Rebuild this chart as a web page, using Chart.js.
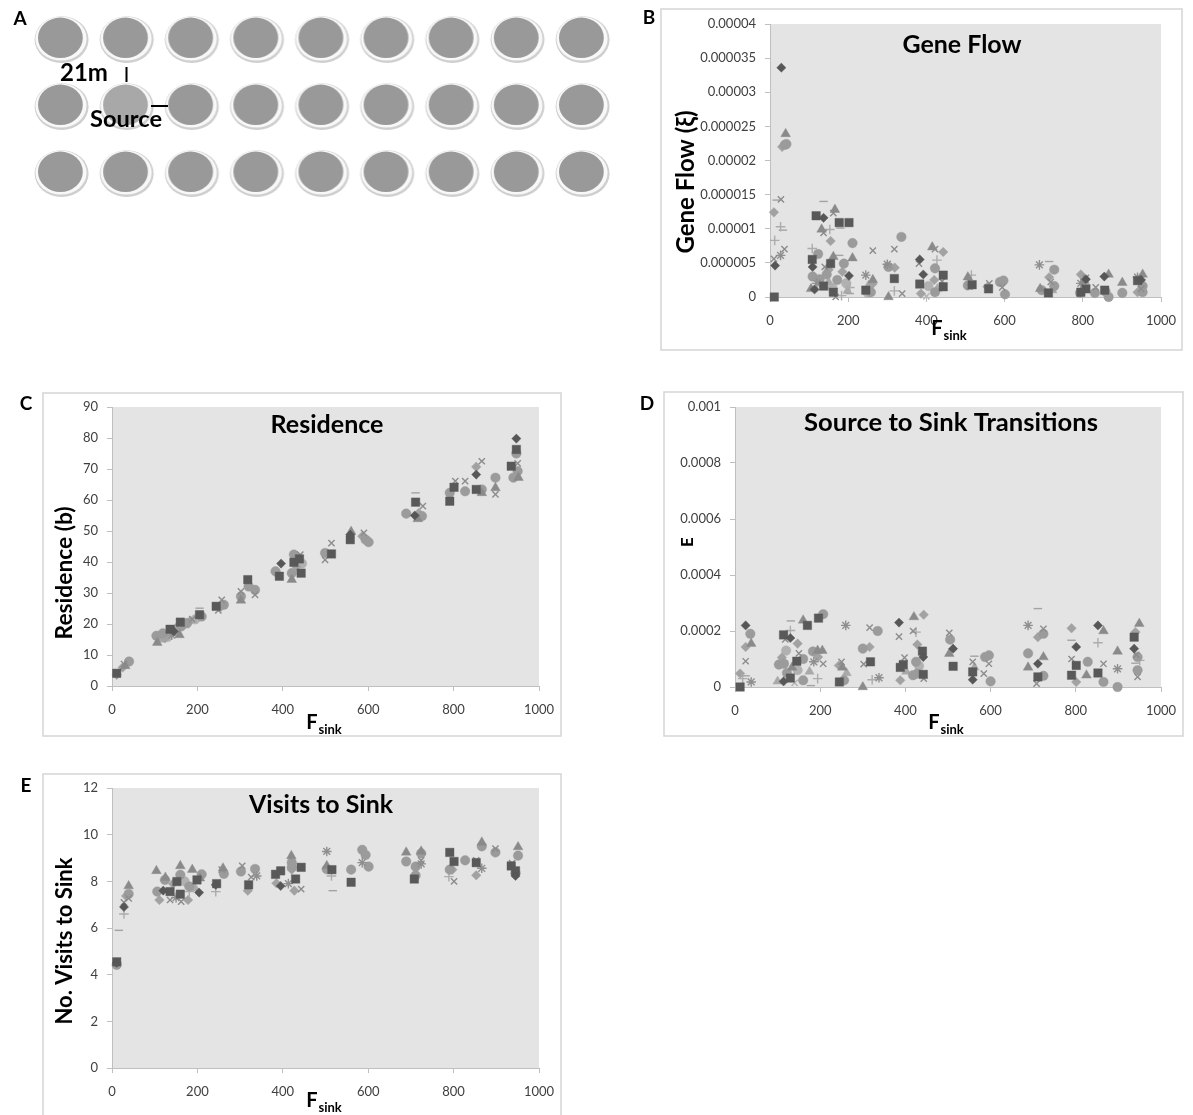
<!DOCTYPE html>
<html>
<head>
<meta charset="utf-8">
<script src="https://cdn.jsdelivr.net/npm/chart.js@4.4.0/dist/chart.umd.min.js"></script>
<style>
  html, body { margin: 0; padding: 0; background: #ffffff; }
  body { width: 1193px; height: 1115px; position: relative; overflow: hidden; }
  canvas { position: absolute; }
</style>
</head>
<body>
<canvas id="panelA" width="640" height="210" style="left:0;top:0"></canvas>
<canvas id="panelB" width="553" height="360" style="left:640px;top:0"></canvas>
<canvas id="panelC" width="580" height="380" style="left:0;top:380px"></canvas>
<canvas id="panelD" width="593" height="380" style="left:600px;top:380px"></canvas>
<canvas id="panelE" width="580" height="355" style="left:0;top:760px"></canvas>
<script>
// ---- Field layout (panel A): 3 rows x 9 columns of plots, one source plot ----
const fieldCols = [1, 2, 3, 4, 5, 6, 7, 8, 9];
const fieldRows = [1, 2, 3];
const sourceField = [2, 2]; // [column, row]

// ---- Axis tick labels ----
const fSinkTicks = ['0', '200', '400', '600', '800', '1000'];
const geneFlowTicks = ['0', '0.000005', '0.00001', '0.000015', '0.00002', '0.000025', '0.00003', '0.000035', '0.00004'];
const residenceTicks = ['0', '10', '20', '30', '40', '50', '60', '70', '80', '90'];
const transitionTicks = ['0', '0.0002', '0.0004', '0.0006', '0.0008', '0.001'];
const visitTicks = ['0', '2', '4', '6', '8', '10', '12'];

// ---- Simulation results: [F_sink, value, series] ----
const geneFlow = [
  [11, 0, 1], [29, 33.6e-6, 0], [40, 23.9e-6, 2], [31, 22.0e-6, 8], [38, 22.3e-6, 5], [42, 22.4e-6, 5],
  [28, 14.3e-6, 3], [17, 14.2e-6, 7], [10, 12.4e-6, 8], [27, 10.3e-6, 6], [33, 9.8e-6, 7], [12, 8.3e-6, 6],
  [37, 7.0e-6, 3], [27, 6.1e-6, 4], [10, 5.6e-6, 3], [13, 4.6e-6, 0],
  [118, 11.9e-6, 1], [137, 11.6e-6, 0], [137, 14.0e-6, 7], [162, 12.3e-6, 3], [166, 12.8e-6, 2], [132, 9.9e-6, 2],
  [137, 9.4e-6, 3], [153, 9.9e-6, 6], [177, 10.9e-6, 1], [202, 10.9e-6, 1], [180, 10.1e-6, 7], [211, 7.9e-6, 5],
  [155, 8.2e-6, 8], [108, 7.1e-6, 6], [123, 6.3e-6, 5], [108, 5.5e-6, 1], [162, 5.9e-6, 2], [177, 6.1e-6, 7],
  [211, 5.7e-6, 2], [109, 3.0e-6, 5], [109, 4.4e-6, 0], [189, 4.9e-6, 5], [155, 4.9e-6, 1], [137, 1.6e-6, 1],
  [114, 1.1e-6, 0], [105, 1.2e-6, 2], [162, 0.7e-6, 1], [202, 3.1e-6, 0], [168, 0, 3], [204, 1.4e-6, 6],
  [204, 0.5e-6, 7], [127, 2.6e-6, 5], [145, 3.3e-6, 5], [150, 2.2e-6, 9], [172, 2.5e-6, 5], [185, 3.7e-6, 8],
  [195, 2.0e-6, 10], [140, 4.4e-6, 3], [120, 2.0e-6, 4], [160, 1.3e-6, 10], [198, 0.9e-6, 9], [183, 0.2e-6, 6],
  [150, 4.0e-6, 8],
  [263, 6.8e-6, 3], [245, 3.2e-6, 4], [263, 2.5e-6, 2], [245, 1.0e-6, 1], [250, 0.6e-6, 10], [258, 0.7e-6, 5],
  [252, 1.7e-6, 9], [262, 1.9e-6, 8],
  [336, 8.8e-6, 5], [318, 7.0e-6, 3], [303, 4.4e-6, 5], [319, 4.3e-6, 8], [318, 2.7e-6, 1], [303, 0, 2],
  [318, 0.9e-6, 6], [338, 0.5e-6, 3], [300, 4.8e-6, 4],
  [383, 5.5e-6, 0], [381, 4.9e-6, 3], [415, 7.3e-6, 2], [422, 7.0e-6, 3], [443, 6.6e-6, 8], [427, 5.4e-6, 6],
  [422, 4.2e-6, 5], [392, 3.3e-6, 0], [383, 1.9e-6, 1], [443, 3.2e-6, 1], [443, 1.5e-6, 1], [422, 0.7e-6, 5],
  [386, 0.5e-6, 8], [420, 2.5e-6, 8], [400, 0.1e-6, 11], [440, 2.3e-6, 3], [405, 1.6e-6, 10], [428, 1.2e-6, 9],
  [506, 2.9e-6, 2], [515, 3.2e-6, 6], [506, 1.7e-6, 5], [517, 1.8e-6, 1], [510, 1.5e-6, 3],
  [559, 1.2e-6, 1], [561, 2.0e-6, 3], [556, 1.5e-6, 8],
  [588, 2.2e-6, 5], [597, 2.4e-6, 5], [601, 0.4e-6, 5], [594, 1.4e-6, 3],
  [689, 4.7e-6, 4], [714, 5.2e-6, 7], [727, 4.0e-6, 5], [714, 2.9e-6, 8], [727, 1.6e-6, 5], [691, 1.2e-6, 2],
  [695, 1.0e-6, 5], [712, 0.6e-6, 1], [718, 2.2e-6, 3], [722, 1.0e-6, 9],
  [795, 3.3e-6, 8], [808, 2.8e-6, 3], [808, 2.6e-6, 0], [795, 2.0e-6, 4], [808, 1.2e-6, 1], [795, 0.7e-6, 1],
  [793, 0.6e-6, 5], [804, 2.4e-6, 2],
  [855, 3.0e-6, 0], [866, 3.3e-6, 2], [833, 1.4e-6, 3], [831, 0.6e-6, 5], [856, 1.0e-6, 1], [858, 0.8e-6, 5],
  [866, 0, 5],
  [901, 2.1e-6, 2], [901, 0.6e-6, 5],
  [953, 3.3e-6, 2], [940, 2.9e-6, 4], [940, 2.4e-6, 1], [949, 2.5e-6, 0], [953, 1.6e-6, 5], [953, 0.7e-6, 5],
  [940, 0.7e-6, 8], [949, 1.2e-6, 3]
];

const residence = [
  [11, 4.1, 1], [11, 3.6, 8], [28, 7.1, 3], [40, 7.9, 5], [31, 6.5, 2], [25, 6.0, 8],
  [104, 16.2, 5], [106, 14.0, 2], [119, 17.0, 5], [124, 15.4, 8], [136, 18.3, 1], [145, 17.6, 0],
  [160, 20.6, 1], [162, 19.2, 5], [158, 16.5, 2], [176, 20.3, 5], [188, 21.6, 3], [205, 23.0, 1],
  [210, 22.4, 5], [205, 25.1, 7], [115, 15.0, 9], [130, 15.8, 10], [150, 18.8, 8], [170, 19.6, 9],
  [182, 20.8, 8], [195, 21.5, 10], [140, 16.4, 4],
  [244, 25.7, 1], [257, 27.8, 3], [262, 26.2, 5], [249, 24.4, 3], [255, 25.5, 8],
  [302, 28.9, 5], [302, 27.6, 2], [302, 30.5, 3], [318, 34.3, 1], [320, 32.1, 5], [335, 31.0, 5], [335, 29.4, 3],
  [396, 39.5, 0], [383, 37.0, 5], [392, 35.4, 1], [426, 42.4, 5], [426, 39.9, 1], [439, 41.0, 1],
  [421, 36.4, 5], [421, 34.3, 2], [443, 36.4, 1], [441, 42.4, 3], [388, 36.0, 8], [432, 38.5, 8], [445, 39.5, 10],
  [499, 42.9, 5], [514, 42.6, 1], [514, 46.1, 3], [499, 40.7, 3],
  [558, 48.8, 0], [558, 47.2, 1], [560, 49.8, 2],
  [590, 49.4, 3], [594, 47.2, 5], [601, 46.4, 5], [586, 48.3, 8],
  [689, 55.6, 5], [711, 59.3, 1], [711, 62.3, 7], [709, 55.0, 0], [726, 54.8, 5], [716, 53.9, 2],
  [728, 58.0, 3], [718, 55.8, 8],
  [791, 59.6, 1], [791, 62.3, 5], [801, 64.1, 1], [804, 66.1, 3], [827, 62.8, 5], [827, 66.1, 3],
  [853, 70.7, 8], [853, 68.2, 0], [853, 63.4, 1], [866, 72.5, 3], [866, 63.4, 5], [866, 62.3, 2],
  [898, 67.2, 5], [898, 63.9, 2], [898, 61.8, 3],
  [947, 79.8, 0], [947, 76.3, 1], [947, 75.0, 5], [935, 70.9, 1], [950, 71.8, 3], [950, 69.3, 5],
  [940, 67.2, 5], [952, 67.2, 2]
];

const transitions = [
  [12, 0, 1], [12, 0.48e-4, 8], [25, 2.2e-4, 0], [36, 1.9e-4, 5], [25, 1.43e-4, 8], [38, 1.55e-4, 2],
  [25, 0.92e-4, 3], [25, 0.4e-4, 7], [38, 0.18e-4, 4], [18, 0.3e-4, 6],
  [196, 2.46e-4, 1], [207, 2.6e-4, 5], [170, 2.2e-4, 1], [160, 2.38e-4, 2], [131, 2.36e-4, 7], [130, 2.02e-4, 6],
  [114, 1.86e-4, 1], [130, 1.75e-4, 0], [118, 1.7e-4, 3], [147, 1.55e-4, 8], [194, 1.3e-4, 2], [205, 1.3e-4, 2],
  [183, 1.27e-4, 5], [195, 1.07e-4, 8], [103, 0.8e-4, 5], [115, 0.83e-4, 5], [145, 0.92e-4, 1], [160, 1.0e-4, 5],
  [147, 0.6e-4, 10], [122, 0.5e-4, 5], [134, 0.7e-4, 2], [130, 0.32e-4, 1], [114, 0.2e-4, 0], [207, 0.83e-4, 3],
  [194, 0.3e-4, 6], [160, 0.24e-4, 5], [100, 0.2e-4, 9], [175, 0.55e-4, 9], [185, 0.9e-4, 4], [140, 0.15e-4, 11],
  [178, 0.05e-4, 7], [110, 1.05e-4, 8], [150, 1.2e-4, 3], [120, 1.3e-4, 10],
  [260, 2.2e-4, 4], [245, 0.18e-4, 1], [252, 0.7e-4, 2], [256, 0.24e-4, 5], [250, 0.9e-4, 3], [244, 0.77e-4, 8],
  [262, 0.5e-4, 9],
  [300, 0, 2], [300, 1.37e-4, 5], [316, 1.43e-4, 8], [316, 2.12e-4, 3], [335, 2.0e-4, 5], [318, 0.9e-4, 1],
  [302, 0.82e-4, 3], [322, 0.26e-4, 6], [338, 0.33e-4, 4],
  [385, 2.3e-4, 0], [385, 1.8e-4, 3], [420, 2.5e-4, 2], [443, 2.58e-4, 8], [425, 1.96e-4, 6], [418, 2.0e-4, 3],
  [428, 1.52e-4, 8], [440, 1.28e-4, 1], [442, 1.07e-4, 0], [395, 0.8e-4, 1], [388, 0.7e-4, 1], [398, 1.05e-4, 3],
  [425, 0.9e-4, 5], [428, 0.48e-4, 5], [418, 0.42e-4, 5], [442, 0.45e-4, 1], [388, 0.24e-4, 8], [443, 0.3e-4, 3],
  [402, 0.55e-4, 9], [432, 0.75e-4, 10],
  [503, 1.93e-4, 3], [505, 1.69e-4, 5], [512, 1.37e-4, 0], [503, 1.19e-4, 2], [512, 0.74e-4, 1],
  [558, 0.9e-4, 3], [558, 0.54e-4, 1], [558, 0.26e-4, 0], [562, 1.1e-4, 7], [562, 0.7e-4, 9],
  [587, 1.07e-4, 5], [596, 1.13e-4, 5], [600, 0.2e-4, 5], [596, 0.83e-4, 3], [584, 0.48e-4, 3],
  [688, 2.2e-4, 4], [711, 2.8e-4, 7], [724, 1.9e-4, 5], [724, 2.08e-4, 3], [711, 1.78e-4, 8], [688, 1.2e-4, 5],
  [724, 1.07e-4, 2], [711, 0.83e-4, 0], [688, 0.7e-4, 2], [711, 0.36e-4, 1], [724, 0.4e-4, 5], [708, 0.12e-4, 3],
  [790, 2.1e-4, 8], [790, 1.67e-4, 7], [801, 1.43e-4, 0], [790, 1.0e-4, 3], [801, 0.77e-4, 1], [790, 0.42e-4, 1],
  [801, 0.18e-4, 8], [828, 0.9e-4, 5],
  [852, 2.2e-4, 0], [865, 2.0e-4, 2], [852, 1.58e-4, 6], [865, 0.83e-4, 3], [825, 0.42e-4, 2], [852, 0.5e-4, 1],
  [865, 0.18e-4, 5],
  [898, 1.27e-4, 2], [898, 0.65e-4, 4], [898, 0, 5],
  [949, 2.26e-4, 2], [940, 1.96e-4, 8], [937, 1.78e-4, 1], [937, 1.37e-4, 0], [945, 1.07e-4, 5], [942, 1.15e-4, 3],
  [945, 0.6e-4, 5], [945, 0.36e-4, 3], [940, 0.85e-4, 7], [950, 0.95e-4, 6]
];

const visits = [
  [11, 4.42, 5], [11, 4.55, 1], [11, 4.5, 0], [16, 5.9, 7], [28, 6.9, 0], [28, 7.1, 3], [28, 6.6, 6],
  [39, 7.8, 2], [39, 7.46, 5], [33, 7.37, 8], [39, 7.27, 3],
  [104, 8.45, 2], [106, 7.56, 5], [111, 7.2, 8], [125, 8.16, 2], [124, 8.06, 5], [136, 7.56, 1], [136, 7.2, 3],
  [160, 8.66, 2], [160, 8.28, 5], [152, 7.99, 1], [160, 7.45, 1], [188, 8.5, 2], [181, 7.78, 5], [162, 7.13, 3],
  [178, 7.2, 8], [210, 8.3, 5], [206, 8.13, 2], [204, 7.52, 0], [199, 8.06, 1], [181, 7.56, 6], [143, 7.9, 8],
  [120, 7.6, 0], [150, 7.3, 4], [170, 8.0, 10], [195, 7.7, 9],
  [243, 7.85, 0], [245, 7.9, 1], [260, 8.56, 2], [262, 8.32, 5], [257, 8.5, 3], [243, 7.56, 6],
  [305, 8.66, 3], [302, 8.42, 5], [320, 7.85, 1], [318, 7.6, 8], [326, 8.18, 3], [339, 8.23, 4], [335, 8.53, 5],
  [383, 8.3, 1], [395, 8.45, 1], [385, 7.92, 8], [395, 7.8, 0], [420, 9.09, 2], [421, 8.8, 5], [421, 8.6, 5],
  [421, 8.5, 8], [443, 8.6, 1], [430, 8.1, 1], [427, 7.6, 8], [443, 7.67, 3], [413, 7.9, 4],
  [503, 9.28, 4], [503, 8.52, 5], [503, 8.66, 2], [515, 8.5, 1], [514, 8.23, 6], [517, 7.6, 7],
  [560, 7.96, 1], [560, 8.5, 5],
  [586, 9.35, 5], [594, 9.13, 5], [601, 8.63, 5], [586, 8.8, 4],
  [689, 9.24, 2], [689, 8.85, 5], [708, 8.1, 1], [711, 8.25, 5], [724, 8.9, 3], [724, 8.75, 4], [724, 9.2, 5],
  [724, 9.28, 2], [711, 8.63, 5],
  [791, 9.24, 1], [801, 8.0, 3], [801, 8.85, 1], [791, 8.5, 5], [797, 8.5, 8], [789, 8.2, 6],
  [827, 8.9, 5], [853, 8.8, 1], [853, 8.9, 3], [853, 8.26, 8], [866, 9.67, 2], [866, 9.5, 5], [866, 8.56, 4],
  [898, 9.24, 5], [898, 9.4, 3],
  [951, 9.47, 2], [951, 9.1, 5], [935, 8.66, 1], [945, 8.45, 1], [945, 8.23, 0], [945, 8.35, 5], [937, 8.78, 3]
];

// ---- Marker style for each series index ----
const seriesStyles = [
  { shape: 'rectRot',  color: '#575757', r: 4.6, stroke: false },
  { shape: 'rect',     color: '#595959', r: 6.0, stroke: false },
  { shape: 'triangle', color: '#8a8a8a', r: 5.6, stroke: false },
  { shape: 'crossRot', color: '#8c8c8c', r: 4.4, stroke: true },
  { shape: 'star',     color: '#8f8f8f', r: 4.8, stroke: true },
  { shape: 'circle',   color: '#9b9b9b', r: 4.8, stroke: false },
  { shape: 'cross',    color: '#acacac', r: 4.8, stroke: true },
  { shape: 'line',     color: '#a3a3a3', r: 4.2, stroke: true },
  { shape: 'rectRot',  color: '#a2a2a2', r: 4.8, stroke: false },
  { shape: 'triangle', color: '#a9a9a9', r: 5.4, stroke: false },
  { shape: 'circle',   color: '#b1b1b1', r: 4.8, stroke: false },
  { shape: 'crossRot', color: '#b3b3b3', r: 4.4, stroke: true }
];

const FONT = 'Lato, "Liberation Sans", sans-serif';

// sets a bold font whose rendered width of `text` equals `width`
function fitBold(ctx, text, width) {
  ctx.font = 'bold 20px ' + FONT;
  const size = 20 * width / ctx.measureText(text).width;
  ctx.font = 'bold ' + size.toFixed(2) + 'px ' + FONT;
}

function seriesDatasets(points) {
  return seriesStyles.map((st, k) => ({
    data: points.filter(p => p[2] === k).map(p => ({ x: p[0], y: p[1] })),
    pointStyle: st.shape,
    pointRadius: st.r,
    pointHoverRadius: st.r,
    backgroundColor: st.color,
    borderColor: st.color,
    borderWidth: st.stroke ? 1.4 : 0.4,
    showLine: false,
    clip: false
  })).filter(d => d.data.length);
}

function axisOptions(ticks, dir, size) {
  const vals = ticks.map(Number);
  const step = vals[1] - vals[0];
  return {
    type: 'linear',
    position: dir === 'x' ? 'bottom' : 'left',
    min: vals[0],
    max: vals[vals.length - 1],
    afterFit: s => { if (dir === 'x') s.height = size; else s.width = size; },
    ticks: {
      stepSize: step, autoSkip: false, maxRotation: 0,
      padding: dir === 'x' ? 11 : 9,
      color: '#404040',
      font: { family: FONT, size: 13 },
      callback: v => ticks[Math.round((v - vals[0]) / step)]
    },
    grid: { drawOnChartArea: false, drawTicks: true, tickLength: 5, color: '#bfbfbf', lineWidth: 1 },
    border: { display: true, color: '#bfbfbf', width: 1 }
  };
}

// Frame, plot-area fill, panel letter, titles
function panelDecor(d) {
  return {
    id: 'panelDecor',
    beforeDraw(chart) {
      const ctx = chart.ctx, a = chart.chartArea;
      ctx.save();
      ctx.strokeStyle = '#d7d7d7';
      ctx.lineWidth = 1.6;
      ctx.strokeRect(d.frame[0], d.frame[1], d.frame[2] - d.frame[0], d.frame[3] - d.frame[1]);
      ctx.fillStyle = '#e4e4e4';
      ctx.fillRect(a.left, a.top, a.right - a.left, a.bottom - a.top);
      ctx.restore();
    },
    afterDraw(chart) {
      const ctx = chart.ctx;
      ctx.save();
      ctx.fillStyle = '#000000';
      ctx.textAlign = 'center';
      ctx.textBaseline = 'middle';
      ctx.font = 'bold 19px ' + FONT;
      ctx.fillText(d.letter, d.letterAt[0], d.letterAt[1]);
      fitBold(ctx, d.title, d.titleWidth);
      ctx.fillText(d.title, d.titleAt[0], d.titleAt[1]);
      // rotated y-axis title
      ctx.save();
      ctx.translate(d.yTitleAt[0], d.yTitleAt[1]);
      ctx.rotate(-Math.PI / 2);
      if (d.yTitleWidth) fitBold(ctx, d.yTitle, d.yTitleWidth);
      else ctx.font = 'bold ' + d.yTitleSize + 'px ' + FONT;
      ctx.fillText(d.yTitle, 0, 0);
      ctx.restore();
      // x-axis title F with subscript "sink"
      ctx.textAlign = 'left';
      ctx.textBaseline = 'alphabetic';
      ctx.font = 'bold 20px ' + FONT;
      const wF = ctx.measureText('F').width;
      ctx.font = 'bold 13px ' + FONT;
      const wS = ctx.measureText('sink').width;
      const x0 = d.xTitleAt[0] - (wF + wS + 1) / 2;
      const base = d.xTitleAt[1] + 7;
      ctx.font = 'bold 20px ' + FONT;
      ctx.fillText('F', x0, base);
      ctx.font = 'bold 13px ' + FONT;
      ctx.fillText('sink', x0 + wF + 1, base + 5);
      ctx.restore();
    }
  };
}

function buildScatter(id, points, yTicks, lay, decor) {
  return new Chart(document.getElementById(id), {
    type: 'scatter',
    data: { datasets: seriesDatasets(points) },
    options: {
      responsive: false,
      animation: false,
      devicePixelRatio: 1,
      events: [],
      layout: { padding: lay.padding },
      plugins: { legend: { display: false }, tooltip: { enabled: false } },
      scales: {
        x: axisOptions(fSinkTicks, 'x', lay.xH),
        y: axisOptions(yTicks, 'y', lay.yW)
      }
    },
    plugins: [panelDecor(decor)]
  });
}

// ---- Panel A: plot grid ----
function discSprite(fill) {
  const c = document.createElement('canvas');
  c.width = 58; c.height = 52;
  const g = c.getContext('2d');
  g.fillStyle = '#cfcfcf';
  g.beginPath(); g.ellipse(29.6, 26.6, 27, 23.4, 0, 0, Math.PI * 2); g.fill();
  g.fillStyle = '#f8f8f8';
  g.beginPath(); g.ellipse(29, 25.6, 25.6, 22, 0, 0, Math.PI * 2); g.fill();
  g.fillStyle = fill;
  g.beginPath(); g.ellipse(28.4, 24.8, 22.4, 20.2, 0, 0, Math.PI * 2); g.fill();
  return c;
}

const fieldPoints = [];
fieldRows.forEach(r => fieldCols.forEach(c => {
  if (!(c === sourceField[0] && r === sourceField[1])) fieldPoints.push({ x: c, y: r });
}));

const fieldLabels = {
  id: 'fieldLabels',
  afterDraw(chart) {
    const ctx = chart.ctx;
    ctx.save();
    ctx.fillStyle = '#000';
    ctx.textAlign = 'center';
    ctx.textBaseline = 'middle';
    ctx.font = 'bold 19px ' + FONT;
    ctx.fillText('A', 20, 19);
    fitBold(ctx, '21m', 48);
    ctx.fillText('21m', 84, 73);
    fitBold(ctx, 'Source', 72);
    ctx.fillText('Source', 126, 119);
    ctx.strokeStyle = '#000';
    ctx.lineWidth = 2;
    ctx.beginPath();
    ctx.moveTo(126.5, 67); ctx.lineTo(126.5, 82);
    ctx.moveTo(151, 106); ctx.lineTo(168, 106);
    ctx.stroke();
    ctx.restore();
  }
};

new Chart(document.getElementById('panelA'), {
  type: 'scatter',
  data: {
    datasets: [
      { data: fieldPoints, pointStyle: discSprite('#999999'), pointRadius: 27, clip: false },
      { data: [{ x: sourceField[0], y: sourceField[1] }], pointStyle: discSprite('#a8a8a8'), pointRadius: 27, clip: false }
    ]
  },
  options: {
    responsive: false, animation: false, devicePixelRatio: 1, events: [],
    layout: { padding: { left: 61, right: 58, top: 39, bottom: 37 } },
    plugins: { legend: { display: false }, tooltip: { enabled: false } },
    scales: {
      x: { type: 'linear', min: 1, max: 9, display: false },
      y: { type: 'linear', min: 1, max: 3, reverse: true, display: false }
    }
  },
  plugins: [fieldLabels]
});

// ---- Panels B-E ----
buildScatter('panelB', geneFlow, geneFlowTicks,
  { padding: { left: 50, top: 24, right: 32, bottom: 23 }, yW: 80, xH: 40 },
  { frame: [21, 9, 542, 350], letter: 'B', letterAt: [9, 18], title: 'Gene Flow', titleWidth: 119, titleAt: [322, 45],
    yTitle: 'Gene Flow (ξ)', yTitleWidth: 143, yTitleAt: [46, 182], xTitleAt: [309, 328] });

buildScatter('panelC', residence, residenceTicks,
  { padding: { left: 32, top: 27, right: 41, bottom: 34 }, yW: 80, xH: 40 },
  { frame: [43, 13, 561, 356], letter: 'C', letterAt: [26, 24], title: 'Residence', titleWidth: 113, titleAt: [327, 45],
    yTitle: 'Residence (b)', yTitleWidth: 133, yTitleAt: [65, 193], xTitleAt: [324, 342] });

buildScatter('panelD', transitions, transitionTicks,
  { padding: { left: 55, top: 27, right: 32, bottom: 33 }, yW: 80, xH: 40 },
  { frame: [64, 12, 583, 356], letter: 'D', letterAt: [47, 24], title: 'Source to Sink Transitions', titleWidth: 294, titleAt: [351, 43],
    yTitle: 'E', yTitleSize: 17, yTitleAt: [88, 162], xTitleAt: [346, 342] });

buildScatter('panelE', visits, visitTicks,
  { padding: { left: 32, top: 28, right: 41, bottom: 7 }, yW: 80, xH: 40 },
  { frame: [43, 14, 561, 370], letter: 'E', letterAt: [26, 26], title: 'Visits to Sink', titleWidth: 144, titleAt: [321, 45],
    yTitle: 'No. Visits to Sink', yTitleWidth: 167, yTitleAt: [65, 181], xTitleAt: [324, 340] });
</script>
</body>
</html>
